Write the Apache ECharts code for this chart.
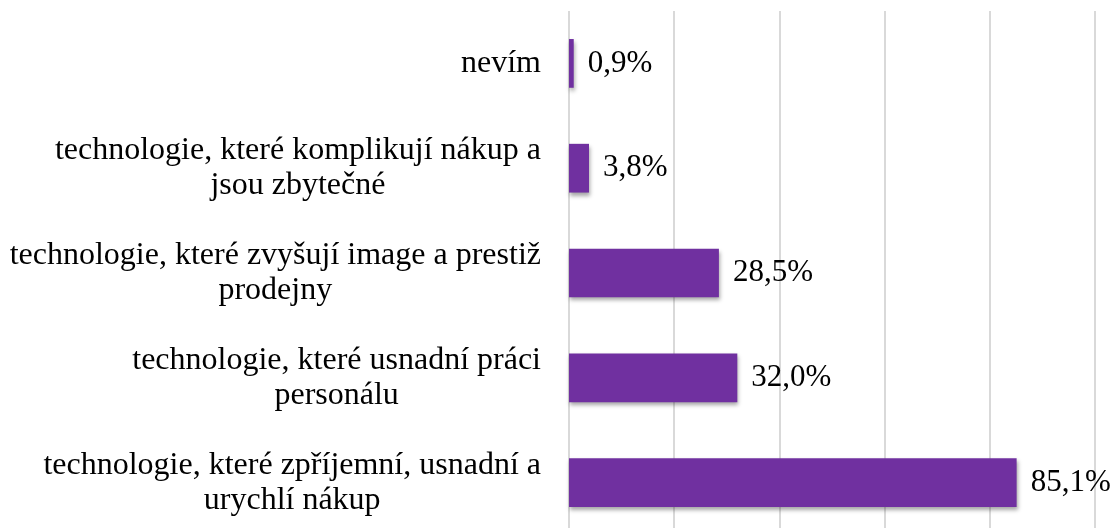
<!DOCTYPE html>
<html>
<head>
<meta charset="utf-8">
<script src="https://cdn.jsdelivr.net/npm/echarts@6/dist/echarts.min.js"></script>
<style>
  html, body { margin: 0; padding: 0; background: #fff; overflow: hidden; }
</style>
</head>
<body>
<!-- plocha grafu v originále přesahuje spodní okraj obrázku -->
<div id="main" style="width:1119px;height:536px;"></div>
<script>
  // kategorie shora dolů
  var categories = [
    'nevím',
    'technologie, které komplikují nákup a\njsou zbytečné',
    'technologie, které zvyšují image a prestiž\nprodejny',
    'technologie, které usnadní práci\npersonálu',
    'technologie, které zpříjemní, usnadní a\nurychlí nákup'
  ];
  var values = [0.9, 3.8, 28.5, 32.0, 85.1];

  var font = '"Liberation Serif", "Times New Roman", serif';
  var chart = echarts.init(document.getElementById('main'));

  var option = {
    backgroundColor: '#fff',
    animation: false,
    grid: {
      left: 569,
      width: 526,
      top: 11,
      height: 524,
      containLabel: false
    },
    xAxis: {
      type: 'value',
      min: 0,
      max: 100,
      interval: 20,
      axisLabel: { show: false },
      axisLine: { show: false },
      axisTick: { show: false },
      splitLine: { lineStyle: { color: '#d9d9d9', width: 2 } }
    },
    yAxis: {
      type: 'category',
      inverse: true,
      data: categories,
      axisLine: { show: false },
      axisTick: { show: false },
      axisLabel: {
        margin: 28,
        formatter: function (v) {
          return v.split('\n').map(function (l) { return '{c|' + l + '}'; }).join('\n');
        },
        rich: {
          c: {
            align: 'center',
            fontSize: 32,
            lineHeight: 35,
            fontFamily: font,
            color: '#000'
          }
        }
      }
    },
    series: [{
      type: 'bar',
      data: values,
      barWidth: '46.5%',
      itemStyle: {
        color: '#7030A0',
        shadowColor: 'rgba(0,0,0,0.35)',
        shadowBlur: 4,
        shadowOffsetX: 1,
        shadowOffsetY: 3
      },
      label: {
        show: true,
        position: 'right',
        distance: 14,
        fontSize: 31,
        fontFamily: font,
        color: '#000',
        formatter: function (p) {
          return p.value.toFixed(1).replace('.', ',') + '%';
        }
      }
    }]
  };

  chart.setOption(option);
</script>
</body>
</html>
